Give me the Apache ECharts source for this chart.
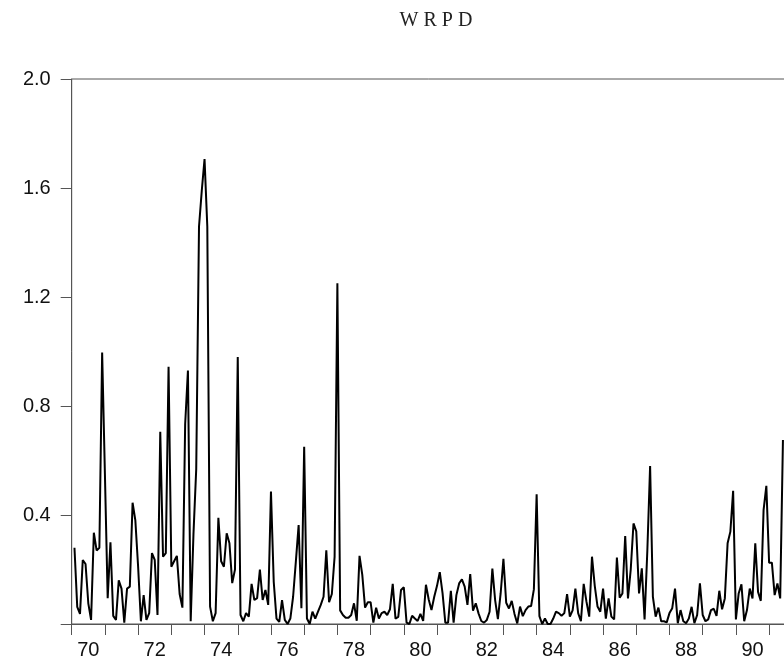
<!DOCTYPE html>
<html>
<head>
<meta charset="utf-8">
<script src="https://cdn.jsdelivr.net/npm/echarts@6/dist/echarts.min.js"></script>
<style>
html,body{margin:0;padding:0;background:#fff;}
#chart{width:784px;height:665px;}
</style>
</head>
<body>
<div id="chart"></div>
<script>
// Monthly observations, first one = January 1970
const startYear = 1970;
const wrpd = [
  // 1970
  0.28, 0.063, 0.037, 0.235, 0.22, 0.076, 0.015, 0.335, 0.27, 0.28, 0.996, 0.55,
  // 1971
  0.095, 0.30, 0.03, 0.015, 0.16, 0.13, 0.005, 0.13, 0.137, 0.445, 0.38, 0.21,
  // 1972
  0.01, 0.106, 0.015, 0.04, 0.26, 0.235, 0.033, 0.705, 0.247, 0.26, 0.944, 0.21,
  // 1973
  0.23, 0.25, 0.11, 0.06, 0.734, 0.93, 0.01, 0.33, 0.57, 1.458, 1.59, 1.706,
  // 1974
  1.458, 0.064, 0.01, 0.04, 0.39, 0.23, 0.21, 0.333, 0.296, 0.15, 0.2, 0.98,
  // 1975
  0.033, 0.01, 0.04, 0.027, 0.147, 0.088, 0.095, 0.2, 0.088, 0.125, 0.07, 0.486,
  // 1976
  0.155, 0.02, 0.008, 0.088, 0.015, 0.0, 0.02, 0.1, 0.23, 0.363, 0.058, 0.65,
  // 1977
  0.02, 0.0, 0.045, 0.02, 0.045, 0.07, 0.1, 0.27, 0.08, 0.11, 0.247, 1.25,
  // 1978
  0.05, 0.033, 0.023, 0.023, 0.033, 0.076, 0.012, 0.25, 0.18, 0.06, 0.08, 0.08,
  // 1979
  0.005, 0.06, 0.02, 0.04, 0.045, 0.033, 0.054, 0.147, 0.02, 0.026, 0.125, 0.135,
  // 1980
  0.005, 0.0, 0.03, 0.02, 0.011, 0.037, 0.011, 0.144, 0.09, 0.051, 0.1, 0.14,
  // 1981
  0.19, 0.113, 0.005, 0.005, 0.122, 0.005, 0.106, 0.149, 0.164, 0.137, 0.07, 0.183,
  // 1982
  0.049, 0.076, 0.039, 0.011, 0.005, 0.015, 0.045, 0.203, 0.088, 0.018, 0.113, 0.239,
  // 1983
  0.078, 0.057, 0.085, 0.037, 0.002, 0.064, 0.029, 0.051, 0.064, 0.066, 0.127, 0.476,
  // 1984
  0.029, 0.0, 0.02, 0.0, 0.0, 0.02, 0.045, 0.04, 0.03, 0.04, 0.11, 0.027,
  // 1985
  0.05, 0.13, 0.04, 0.01, 0.147, 0.082, 0.027, 0.247, 0.14, 0.064, 0.045, 0.13,
  // 1986
  0.02, 0.094, 0.027, 0.017, 0.244, 0.097, 0.112, 0.323, 0.094, 0.2, 0.369, 0.34,
  // 1987
  0.112, 0.204, 0.017, 0.27, 0.58, 0.1, 0.027, 0.06, 0.01, 0.01, 0.006, 0.04,
  // 1988
  0.058, 0.13, 0.003, 0.051, 0.01, 0.003, 0.02, 0.063, 0.003, 0.033, 0.149, 0.033,
  // 1989
  0.01, 0.017, 0.051, 0.056, 0.03, 0.122, 0.054, 0.094, 0.296, 0.339, 0.489, 0.017,
  // 1990
  0.112, 0.146, 0.01, 0.051, 0.13, 0.094, 0.296, 0.118, 0.085, 0.418, 0.507, 0.225,
  // 1991
  0.225, 0.106, 0.149, 0.094, 0.675
];
const yearTickLabels = ['70','72','74','76','78','80','82','84','86','88','90'];
const yTickLabels = ['0.4','0.8','1.2','1.6','2.0'];
const titleText = 'W R P D';

// month index (months since Jan 1970) for each observation
const points = wrpd.map((v, i) => [i + 1, v]);
const axisMonths = 261;

const chart = echarts.init(document.getElementById('chart'), null, {renderer: 'canvas'});
const axisColor = '#555';
const fontFamily = '"Liberation Sans", Arial, sans-serif';

chart.setOption({
  animation: false,
  backgroundColor: '#fff',
  title: {
    text: titleText,
    left: 431,
    top: 6,
    textAlign: 'center',
    textStyle: {
      fontFamily: '"Liberation Serif", "Times New Roman", serif',
      fontSize: 20,
      fontWeight: 'normal',
      color: '#222'
    }
  },
  grid: {
    left: 71.7,
    top: 79,
    width: axisMonths * 2.7675,
    height: 545,
    outerBoundsMode: 'none',
    containLabel: false,
    show: true,
    borderColor: axisColor,
    borderWidth: 1,
    backgroundColor: 'transparent'
  },
  xAxis: [
    {
      type: 'value',
      min: 0,
      max: axisMonths,
      interval: 12,
      position: 'bottom',
      axisLine: {show: true, onZero: false, lineStyle: {color: axisColor, width: 1}},
      axisTick: {show: true, inside: false, length: 11, lineStyle: {color: axisColor, width: 1}},
      axisLabel: {show: false},
      splitLine: {show: false}
    },
    {
      type: 'value',
      min: 0,
      max: axisMonths,
      interval: 6,
      position: 'bottom',
      axisLine: {show: false, onZero: false},
      axisTick: {show: false},
      splitLine: {show: false},
      axisLabel: {
        show: true,
        margin: 16,
        fontSize: 20,
        fontFamily: fontFamily,
        color: '#111',
        showMinLabel: true,
        showMaxLabel: false,
        formatter: function (v) {
          if ((v - 6) % 24 === 0) {
            const k = (v - 6) / 24;
            return yearTickLabels[k] !== undefined ? yearTickLabels[k] : '';
          }
          return '';
        }
      }
    }
  ],
  yAxis: {
    type: 'value',
    min: 0,
    max: 2.0,
    interval: 0.4,
    axisLine: {show: true, onZero: false, lineStyle: {color: axisColor, width: 1}},
    axisTick: {show: true, inside: false, length: 11, lineStyle: {color: axisColor, width: 1}},
    splitLine: {show: false},
    axisLabel: {
      margin: 21,
      fontSize: 20,
      fontFamily: fontFamily,
      color: '#111',
      formatter: function (v) {
        const k = Math.round(v / 0.4) - 1;
        return k >= 0 && yTickLabels[k] !== undefined ? yTickLabels[k] : '';
      }
    }
  },
  series: [{
    type: 'line',
    xAxisIndex: 0,
    data: points,
    showSymbol: false,
    symbol: 'none',
    smooth: false,
    lineStyle: {color: '#000', width: 2},
    clip: true
  }]
});
</script>
</body>
</html>
